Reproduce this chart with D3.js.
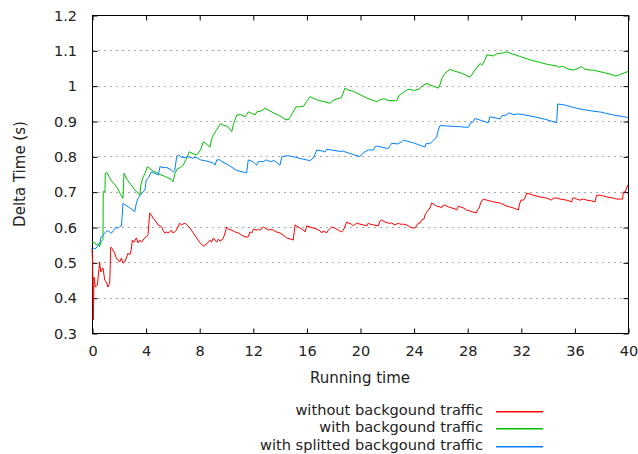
<!DOCTYPE html>
<html>
<head>
<meta charset="utf-8">
<script src="https://cdn.jsdelivr.net/npm/d3@7"></script>
<style>
  html, body { margin: 0; padding: 0; background: #fff; }
  svg { display: block; }
  text { font-family: "DejaVu Sans", sans-serif; fill: #222; }
</style>
</head>
<body>
<svg id="chart" width="638" height="454"></svg>
<script>
// Delay measurements over the run, [running time, delta time] pairs
const withoutTraffic = [
  [0, 0.540], [0.05, 0.492], [0.10, 0.337], [0.15, 0.458], [0.25, 0.430], [0.40, 0.436],
  [0.57, 0.501], [0.65, 0.473], [0.82, 0.484], [0.95, 0.450], [1.07, 0.444], [1.19, 0.430],
  [1.32, 0.441], [1.40, 0.543], [1.49, 0.540], [1.69, 0.526], [1.81, 0.512], [1.94, 0.507],
  [2.07, 0.501], [2.19, 0.512], [2.31, 0.498], [2.44, 0.501], [2.56, 0.512], [2.69, 0.526],
  [2.81, 0.521], [2.93, 0.535], [3.01, 0.563], [3.13, 0.557], [3.31, 0.569], [3.43, 0.555],
  [3.56, 0.563], [3.68, 0.557], [3.81, 0.563], [3.93, 0.569], [4.05, 0.572], [4.18, 0.578],
  [4.31, 0.640], [4.43, 0.634], [4.55, 0.625], [4.68, 0.620], [4.80, 0.614], [4.93, 0.606],
  [5.20, 0.600], [5.30, 0.591], [5.43, 0.583], [5.54, 0.586], [5.67, 0.583], [5.80, 0.586],
  [5.92, 0.591], [6.04, 0.583], [6.17, 0.586], [6.29, 0.591], [6.42, 0.600], [6.54, 0.611],
  [6.66, 0.606], [6.94, 0.611], [7.07, 0.606], [7.31, 0.597], [7.56, 0.583], [7.81, 0.569],
  [8.06, 0.555], [8.31, 0.546], [8.56, 0.552], [8.81, 0.563], [8.93, 0.557], [9.05, 0.569],
  [9.18, 0.563], [9.31, 0.557], [9.43, 0.566], [9.55, 0.560], [9.68, 0.563], [9.80, 0.569],
  [9.93, 0.583], [10.05, 0.600], [10.17, 0.594], [10.43, 0.591], [10.67, 0.586], [10.92, 0.583],
  [11.17, 0.577], [11.42, 0.572], [11.66, 0.572], [11.79, 0.586], [11.92, 0.583], [12.04, 0.594],
  [12.29, 0.591], [12.41, 0.594], [12.54, 0.591], [12.78, 0.600], [12.91, 0.597], [13.16, 0.591],
  [13.28, 0.594], [13.53, 0.591], [13.78, 0.586], [14.03, 0.583], [14.28, 0.577], [14.53, 0.569],
  [14.78, 0.566], [15.02, 0.563], [15.15, 0.606], [15.28, 0.603], [15.52, 0.597], [15.77, 0.591],
  [15.90, 0.586], [16.02, 0.603], [16.27, 0.600], [16.52, 0.597], [16.77, 0.594], [17.01, 0.589],
  [17.14, 0.583], [17.26, 0.589], [17.39, 0.586], [17.51, 0.583], [17.64, 0.591], [17.89, 0.600],
  [18.13, 0.597], [18.38, 0.591], [18.63, 0.586], [18.76, 0.591], [19.01, 0.614], [19.13, 0.611],
  [19.38, 0.608], [19.50, 0.603], [19.75, 0.611], [20.00, 0.608], [20.25, 0.606], [20.50, 0.603],
  [20.62, 0.611], [20.75, 0.608], [21.00, 0.606], [21.37, 0.603], [21.49, 0.617], [21.62, 0.620],
  [21.87, 0.614], [22.11, 0.611], [22.36, 0.611], [22.61, 0.606], [22.86, 0.611], [22.99, 0.608],
  [23.23, 0.608], [23.48, 0.606], [23.73, 0.600], [23.98, 0.597], [24.10, 0.597], [24.35, 0.611],
  [24.48, 0.611], [24.60, 0.620], [24.78, 0.623], [24.85, 0.634], [24.98, 0.642], [25.10, 0.648],
  [25.22, 0.654], [25.35, 0.668], [25.47, 0.665], [25.72, 0.659], [25.97, 0.657], [26.09, 0.654],
  [26.22, 0.662], [26.34, 0.662], [26.59, 0.657], [26.84, 0.654], [27.09, 0.651], [27.21, 0.648],
  [27.34, 0.659], [27.46, 0.657], [27.71, 0.654], [27.96, 0.648], [28.21, 0.645], [28.46, 0.642],
  [28.71, 0.640], [28.75, 0.648], [28.90, 0.654], [29.00, 0.668], [29.20, 0.679], [29.46, 0.676],
  [29.95, 0.671], [30.45, 0.668], [30.95, 0.659], [31.44, 0.654], [31.82, 0.648], [31.89, 0.662],
  [32.00, 0.676], [32.19, 0.676], [32.31, 0.682], [32.44, 0.696], [32.69, 0.693], [32.93, 0.690],
  [33.43, 0.685], [33.93, 0.682], [34.30, 0.676], [34.42, 0.682], [34.68, 0.682], [34.93, 0.679],
  [35.43, 0.676], [35.80, 0.671], [35.87, 0.682], [36.04, 0.682], [36.17, 0.679], [36.42, 0.676],
  [36.66, 0.679], [36.92, 0.676], [37.29, 0.674], [37.54, 0.671], [37.66, 0.690], [37.91, 0.690],
  [38.16, 0.688], [38.41, 0.685], [38.90, 0.682], [39.15, 0.679], [39.40, 0.679], [39.60, 0.679],
  [39.65, 0.699], [39.78, 0.699], [39.90, 0.710], [40.00, 0.719]
];

const withTraffic = [
  [0, 0.558], [0.20, 0.556], [0.32, 0.549], [0.45, 0.553], [0.57, 0.544], [0.69, 0.560],
  [0.82, 0.565], [0.84, 0.700], [0.97, 0.700], [0.99, 0.752], [1.10, 0.755], [1.30, 0.740],
  [1.50, 0.728], [1.70, 0.720], [1.90, 0.710], [2.10, 0.695], [2.31, 0.681], [2.39, 0.752],
  [2.60, 0.735], [2.90, 0.720], [3.20, 0.705], [3.56, 0.690], [3.65, 0.720], [3.80, 0.740],
  [4.00, 0.755], [4.13, 0.771], [4.50, 0.760], [5.00, 0.750], [5.50, 0.742], [5.90, 0.735],
  [6.04, 0.728], [6.19, 0.752], [6.40, 0.766], [6.60, 0.768], [6.81, 0.775], [7.00, 0.790],
  [7.26, 0.813], [7.50, 0.808], [7.81, 0.804], [8.10, 0.818], [8.31, 0.841], [8.50, 0.836],
  [8.81, 0.826], [8.90, 0.845], [9.05, 0.860], [9.30, 0.875], [9.60, 0.893], [9.80, 0.888],
  [10.10, 0.885], [10.43, 0.870], [10.55, 0.890], [10.80, 0.917], [11.10, 0.918], [11.42, 0.912],
  [11.55, 0.918], [11.66, 0.926], [11.90, 0.922], [12.16, 0.917], [12.30, 0.926], [12.60, 0.928],
  [12.91, 0.936], [13.20, 0.930], [13.60, 0.922], [14.00, 0.915], [14.40, 0.905], [14.65, 0.903],
  [14.80, 0.912], [15.00, 0.925], [15.22, 0.940], [15.50, 0.940], [15.80, 0.942], [16.00, 0.955],
  [16.27, 0.969], [16.50, 0.965], [16.90, 0.958], [17.30, 0.955], [17.76, 0.950], [18.00, 0.958],
  [18.30, 0.963], [18.60, 0.966], [18.88, 0.993], [19.10, 0.988], [19.50, 0.984], [20.00, 0.975],
  [20.50, 0.965], [21.00, 0.958], [21.30, 0.955], [21.50, 0.960], [21.80, 0.963], [22.10, 0.958],
  [22.74, 0.957], [22.90, 0.972], [23.20, 0.980], [23.50, 0.988], [23.70, 0.990], [24.00, 0.986],
  [24.40, 0.990], [24.72, 1.002], [25.00, 1.006], [25.50, 0.998], [25.84, 0.993], [26.00, 1.005],
  [26.10, 1.020], [26.34, 1.035], [26.72, 1.046], [27.00, 1.042], [27.60, 1.035], [28.21, 1.024],
  [28.50, 1.040], [28.96, 1.063], [29.10, 1.058], [29.33, 1.073], [29.46, 1.087], [29.70, 1.086],
  [29.95, 1.084], [30.20, 1.090], [30.69, 1.093], [30.95, 1.096], [31.20, 1.092], [32.00, 1.082],
  [32.69, 1.073], [33.50, 1.065], [34.00, 1.060], [34.68, 1.056], [34.80, 1.052], [35.10, 1.055],
  [35.50, 1.048], [35.92, 1.044], [36.20, 1.048], [36.54, 1.054], [36.80, 1.046], [37.50, 1.043],
  [38.20, 1.037], [38.90, 1.030], [39.10, 1.027], [39.50, 1.033], [40.00, 1.040]
];

const withSplitTraffic = [
  [0, 0.535], [0.10, 0.540], [0.25, 0.538], [0.40, 0.545], [0.57, 0.554], [0.69, 0.572],
  [0.82, 0.577], [1.00, 0.585], [1.20, 0.590], [1.30, 0.586], [1.44, 0.582], [1.60, 0.590],
  [1.80, 0.600], [1.94, 0.596], [2.07, 0.601], [2.19, 0.603], [2.25, 0.630], [2.31, 0.667],
  [2.50, 0.662], [2.80, 0.655], [3.19, 0.643], [3.30, 0.665], [3.43, 0.681], [3.60, 0.690],
  [3.81, 0.700], [3.95, 0.705], [4.05, 0.733], [4.20, 0.738], [4.43, 0.756], [4.70, 0.752],
  [4.95, 0.747], [5.07, 0.771], [5.30, 0.768], [5.60, 0.768], [5.90, 0.762], [6.07, 0.756],
  [6.17, 0.759], [6.32, 0.799], [6.44, 0.804], [6.70, 0.797], [7.00, 0.797], [7.19, 0.799],
  [7.50, 0.795], [7.80, 0.797], [8.10, 0.790], [8.50, 0.787], [9.00, 0.782], [9.18, 0.775],
  [9.31, 0.790], [9.55, 0.790], [9.70, 0.785], [10.20, 0.775], [10.80, 0.760], [11.54, 0.753],
  [11.66, 0.790], [12.00, 0.785], [12.29, 0.775], [12.40, 0.785], [12.80, 0.785], [13.00, 0.790],
  [13.30, 0.785], [13.60, 0.788], [14.03, 0.775], [14.16, 0.799], [14.60, 0.802], [15.00, 0.799],
  [15.52, 0.794], [16.00, 0.790], [16.27, 0.788], [16.50, 0.795], [16.64, 0.804], [16.77, 0.818],
  [17.20, 0.815], [17.39, 0.812], [17.51, 0.820], [18.00, 0.817], [18.51, 0.814], [18.70, 0.815],
  [19.50, 0.805], [20.00, 0.799], [20.25, 0.810], [20.62, 0.818], [21.00, 0.818], [21.12, 0.827],
  [21.25, 0.829], [22.11, 0.822], [22.24, 0.830], [22.37, 0.837], [22.80, 0.835], [23.11, 0.841],
  [23.23, 0.846], [24.00, 0.838], [24.85, 0.826], [24.93, 0.836], [25.22, 0.836], [25.47, 0.845],
  [25.72, 0.855], [25.84, 0.874], [25.97, 0.887], [26.50, 0.886], [27.34, 0.884], [28.08, 0.882],
  [28.21, 0.893], [28.46, 0.898], [28.58, 0.907], [29.00, 0.902], [29.57, 0.895], [29.70, 0.912],
  [30.45, 0.906], [30.60, 0.915], [30.95, 0.917], [31.07, 0.923], [31.50, 0.918], [31.81, 0.920],
  [32.30, 0.917], [33.00, 0.912], [33.80, 0.905], [34.68, 0.895], [34.75, 0.948], [35.20, 0.946],
  [36.17, 0.936], [37.00, 0.930], [38.00, 0.925], [38.90, 0.917], [40.00, 0.910]
];

const seriesNames = ["without backgound traffic", "with backgound traffic", "with splitted backgound traffic"];
const seriesColors = ["#ff0000", "#00c000", "#0080ff"];
const xTicks = [0, 4, 8, 12, 16, 20, 24, 28, 32, 36, 40];
const yTicks = [0.3, 0.4, 0.5, 0.6, 0.7, 0.8, 0.9, 1.0, 1.1, 1.2];

const svg = d3.select("#chart");
const plotLeft = 92, plotRight = 628, plotTop = 15, plotBottom = 333;
const fontSize = 15;

const x = d3.scaleLinear().domain([0, 40]).range([plotLeft, plotRight]);
const y = d3.scaleLinear().domain([0.3, 1.2]).range([plotBottom, plotTop]);

// horizontal dotted grid
svg.append("g")
  .selectAll("line")
  .data(yTicks.filter(v => v > 0.3 && v < 1.2))
  .join("line")
  .attr("x1", plotLeft).attr("x2", plotRight)
  .attr("y1", d => Math.round(y(d)) + 0.5).attr("y2", d => Math.round(y(d)) + 0.5)
  .attr("stroke", "#a8a8a8")
  .attr("stroke-width", 1)
  .attr("stroke-dasharray", "2,4");

// axes with inward ticks, mirrored on top and right
const tickLen = 5;
const fmtY = d => d3.format(".1f")(d).replace(/\.0$/, "");

const gx = svg.append("g")
  .attr("transform", `translate(0.5,${plotBottom + 0.5})`)
  .call(d3.axisBottom(x).tickValues(xTicks).tickSizeInner(-tickLen).tickSizeOuter(0).tickPadding(12));
const gxTop = svg.append("g")
  .attr("transform", `translate(0.5,${plotTop + 0.5})`)
  .call(d3.axisTop(x).tickValues(xTicks).tickSizeInner(-tickLen).tickSizeOuter(0).tickFormat(""));
const gy = svg.append("g")
  .attr("transform", `translate(${plotLeft + 0.5},0.5)`)
  .call(d3.axisLeft(y).tickValues(yTicks).tickSizeInner(-tickLen).tickSizeOuter(0).tickPadding(15.5).tickFormat(fmtY));
const gyRight = svg.append("g")
  .attr("transform", `translate(${plotRight + 0.5},0.5)`)
  .call(d3.axisRight(y).tickValues(yTicks).tickSizeInner(-tickLen).tickSizeOuter(0).tickFormat(""));

[gx, gxTop, gy, gyRight].forEach(g => {
  g.select(".domain").remove();
  g.selectAll(".tick line").attr("stroke", "#000");
  g.selectAll("text")
    .attr("font-family", "DejaVu Sans, sans-serif")
    .attr("font-size", 14.5)
    .attr("fill", "#222");
});

// frame
svg.append("rect")
  .attr("x", plotLeft + 0.5).attr("y", plotTop + 0.5)
  .attr("width", plotRight - plotLeft).attr("height", plotBottom - plotTop)
  .attr("fill", "none").attr("stroke", "#000").attr("stroke-width", 1);

// series lines
const lineGen = d3.line().x(d => x(d[0])).y(d => y(d[1]));
[withoutTraffic, withTraffic, withSplitTraffic].forEach((data, i) => {
  svg.append("path")
    .datum(data)
    .attr("fill", "none")
    .style("stroke", seriesColors[i])
    .attr("stroke-width", 1)
    .attr("stroke-linejoin", "round")
    .attr("d", lineGen);
});

// axis titles
svg.append("text")
  .attr("x", (plotLeft + plotRight) / 2).attr("y", 383)
  .attr("text-anchor", "middle")
  .attr("font-size", fontSize)
  .text("Running time");

svg.append("text")
  .attr("transform", `translate(25,${(plotTop + plotBottom) / 2}) rotate(-90)`)
  .attr("text-anchor", "middle")
  .attr("font-size", fontSize)
  .text("Delta Time (s)");

// key: label on the left, coloured sample on the right
const key = svg.append("g");
seriesNames.forEach((name, i) => {
  const cy = 410.5 + i * 17.7;
  key.append("text")
    .attr("x", 483).attr("y", cy + 4)
    .attr("text-anchor", "end")
    .attr("font-size", 14.6)
    .text(name);
  key.append("rect")
    .attr("x", 496).attr("y", Math.round(cy))
    .attr("width", 47).attr("height", 1.5)
    .style("fill", seriesColors[i])
    .style("stroke", "none");
});
</script>
</body>
</html>
